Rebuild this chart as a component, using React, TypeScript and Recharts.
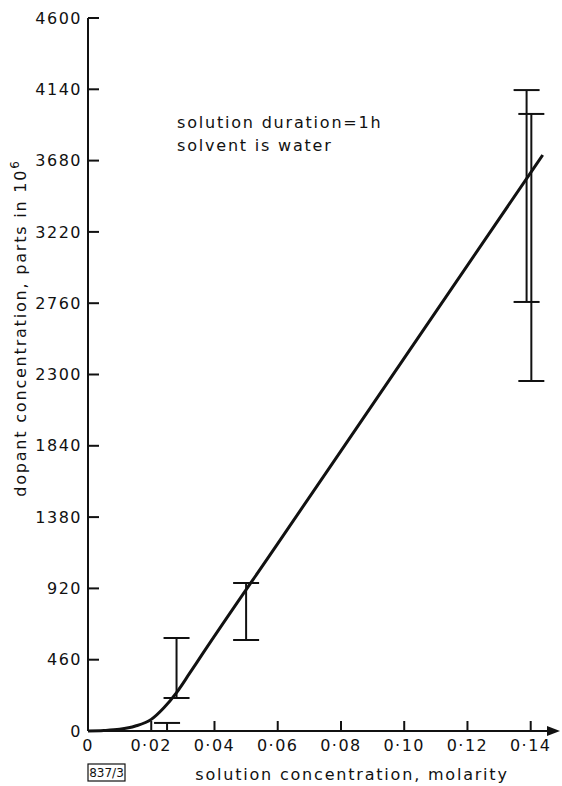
import { ComposedChart, Line, Scatter, ErrorBar, XAxis, YAxis, ReferenceDot } from 'recharts';

const xTicks = [0, 0.02, 0.04, 0.06, 0.08, 0.1, 0.12, 0.14];
const yTicks = [0, 460, 920, 1380, 1840, 2300, 2760, 3220, 3680, 4140, 4600];

// hand-drawn curve: slow start, then a straight run
const curveX = [0, 0.005, 0.01, 0.015, 0.02, 0.024, 0.028, 0.032, 0.036, 0.06, 0.1, 0.1438];
const curveY = [0, 3, 11, 32, 75, 150, 248, 368, 491, 1209, 2406, 3716];

// error bars (no centre markers in the original)
const barX = [0.025, 0.028, 0.05, 0.1387, 0.1402];
const barLow = [0, 213, 587, 2768, 2258];
const barHigh = [52, 600, 955, 4135, 3981];

const curveData = curveX.map((x, i) => ({ x, y: curveY[i] }));
const barData = barX.map((x, i) => {
  const mid = (barLow[i] + barHigh[i]) / 2;
  return { x, y: mid, err: [mid - barLow[i], barHigh[i] - mid] };
});

const FONT = '"DejaVu Sans", sans-serif';
const INK = '#111';

const fmtX = (v: number) => (v === 0 ? '0' : v.toFixed(2).replace('.', '\u00b7'));

const tickStyle = { fontFamily: FONT, fontSize: 16, fill: INK, letterSpacing: 1.5 };

const Arrow = (p: any) => (
  <path d={`M${p.cx - 9},${p.cy - 5} L${p.cx + 4},${p.cy} L${p.cx - 9},${p.cy + 5} Z`} fill={INK} />
);

export default function App() {
  return (
    <div style={{ position: 'absolute', left: 0, top: 0, width: 562, height: 786, background: '#fff' }}>
      <ComposedChart width={562} height={786} margin={{ top: 18, right: 6, bottom: 0, left: 0 }}>
        <XAxis
          type="number"
          dataKey="x"
          domain={[0, 0.148]}
          ticks={xTicks}
          tickFormatter={fmtX}
          tick={tickStyle}
          tickLine={{ stroke: INK, strokeWidth: 2 }}
          tickSize={-10}
          tickMargin={19}
          height={55}
          axisLine={{ stroke: INK, strokeWidth: 2 }}
          allowDataOverflow
        />
        <YAxis
          type="number"
          domain={[0, 4600]}
          ticks={yTicks}
          tick={tickStyle}
          tickLine={{ stroke: INK, strokeWidth: 2 }}
          tickSize={-11}
          tickMargin={17}
          width={88}
          axisLine={{ stroke: INK, strokeWidth: 2 }}
        />
        <Line
          data={curveData}
          dataKey="y"
          type="monotone"
          stroke={INK}
          strokeWidth={3}
          dot={false}
          isAnimationActive={false}
        />
        <Scatter data={barData} dataKey="y" shape={() => <g />} isAnimationActive={false}>
          <ErrorBar dataKey="err" direction="y" width={13} stroke={INK} strokeWidth={2} isAnimationActive={false} />
        </Scatter>
        <ReferenceDot x={0.148} y={0} shape={Arrow} ifOverflow="visible" />
      </ComposedChart>
      <svg
        width={562}
        height={786}
        style={{ position: 'absolute', left: 0, top: 0, pointerEvents: 'none' }}
        fontFamily={FONT}
        fill={INK}
      >
        <text x={177} y={128} fontSize={16} letterSpacing={1.8}>solution duration=1h</text>
        <text x={177} y={151} fontSize={16} letterSpacing={1.8}>solvent is water</text>
        <text
          x={0}
          y={0}
          fontSize={16}
          letterSpacing={1.8}
          textAnchor="middle"
          transform="translate(26,328) rotate(-90)"
        >
          dopant concentration, parts in 10<tspan dy={-7} fontSize={12}>6</tspan>
        </text>
        <text x={352} y={780} fontSize={16} letterSpacing={1.8} textAnchor="middle">
          solution concentration, molarity
        </text>
        <rect x={88} y={764} width={37} height={17} fill="none" stroke={INK} strokeWidth={1.2} />
        <text x={106.5} y={777} fontSize={12} textAnchor="middle">837/3</text>
      </svg>
    </div>
  );
}
